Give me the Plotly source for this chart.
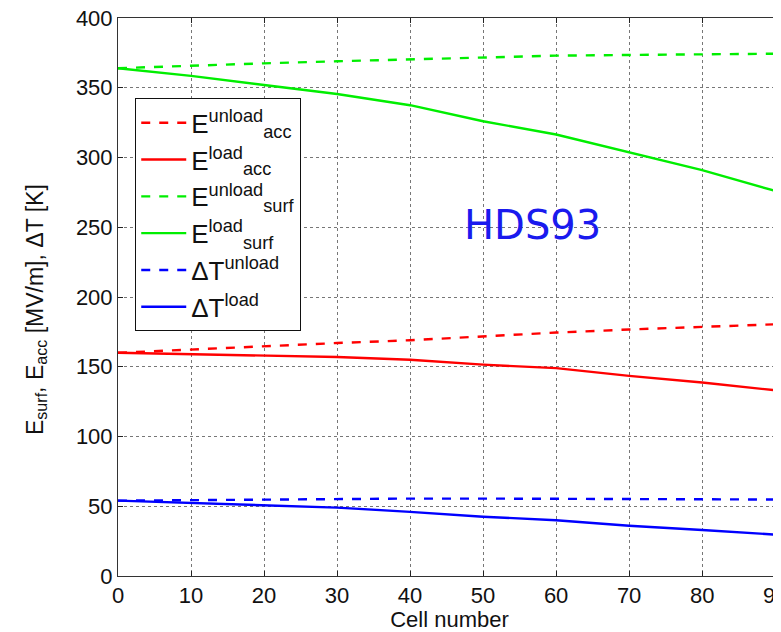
import plotly.graph_objects as go

cells = [0, 10, 20, 30, 40, 50, 60, 70, 80, 90, 92]
esurf_unload = [364, 366, 367.5, 369, 370.5, 372, 373, 373.5, 374, 374.5, 374.5]
esurf_load = [364, 358.5, 352, 345.5, 337.5, 326, 316.5, 304, 291, 276, 273]
eacc_unload = [160, 162.5, 165, 167, 169, 172, 174.5, 176.7, 178.4, 180.4, 180.8]
eacc_load = [160, 159, 158, 157, 155, 151.5, 149, 143.5, 138.7, 133, 132]
dT_unload = [54, 54.5, 55, 55.5, 55.5, 55.5, 55.5, 55.5, 55, 54.8, 54.8]
dT_load = [54, 52.5, 50.5, 49, 46, 42.5, 40, 36, 33, 29.6, 29]

series = [
    ("E<sup>unload</sup><sub>acc</sub>", eacc_unload, "#ff0000", "dash"),
    ("E<sup>load</sup><sub>acc</sub>", eacc_load, "#ff0000", "solid"),
    ("E<sup>unload</sup><sub>surf</sub>", esurf_unload, "#00ee00", "dash"),
    ("E<sup>load</sup><sub>surf</sub>", esurf_load, "#00ee00", "solid"),
    ("ΔT<sup>unload</sup>", dT_unload, "#0000ff", "dash"),
    ("ΔT<sup>load</sup>", dT_load, "#0000ff", "solid"),
]

FONT = "Liberation Sans, Arial"

fig = go.Figure()
for i, (name, vals, col, dash) in enumerate(series):
    fig.add_trace(go.Scatter(x=cells, y=vals, mode="lines", name=name,
                             legendgroup=f"g{i}",
                             line=dict(color=col, dash=dash, width=2.4)))

fig.add_annotation(x=56.7, y=251.5, text="HDS93", showarrow=False,
                   font=dict(family="DejaVu Sans", size=40, color="#1a1aee"))

fig.add_annotation(xref="paper", yref="paper", x=-0.124, y=0.478,
                   text="E<sub>surf</sub>, E<sub>acc</sub> [MV/m], ΔT [K]",
                   textangle=-90, showarrow=False, xanchor="center", yanchor="middle",
                   font=dict(family=FONT, size=23, color="#111"))

axis_common = dict(showline=True, linecolor="#333", linewidth=1, ticks="inside",
                   ticklen=5, tickcolor="#222", showgrid=True, gridcolor="#777",
                   griddash="dot", gridwidth=1, zeroline=False, automargin=False,
                   ticklabeloverflow="allow",
                   tickfont=dict(family=FONT, size=22, color="#111"))

fig.update_layout(
    width=773, height=624,
    margin=dict(l=110, r=0, t=10, b=56, autoexpand=False),
    plot_bgcolor="white", paper_bgcolor="white",
    xaxis=dict(range=[0, 90.8], dtick=10, mirror="ticks",
               title=dict(text="Cell number", font=dict(family=FONT, size=22, color="#111"), standoff=12),
               **axis_common),
    yaxis=dict(range=[0, 400], dtick=50, **axis_common),
    legend=dict(x=0.026, y=0.856, xanchor="left", yanchor="top",
                bgcolor="white", bordercolor="#111", borderwidth=1,
                font=dict(family=FONT, size=26, color="#111"),
                tracegroupgap=0, itemwidth=45),
    showlegend=True,
)

fig.write_html("out.html")
